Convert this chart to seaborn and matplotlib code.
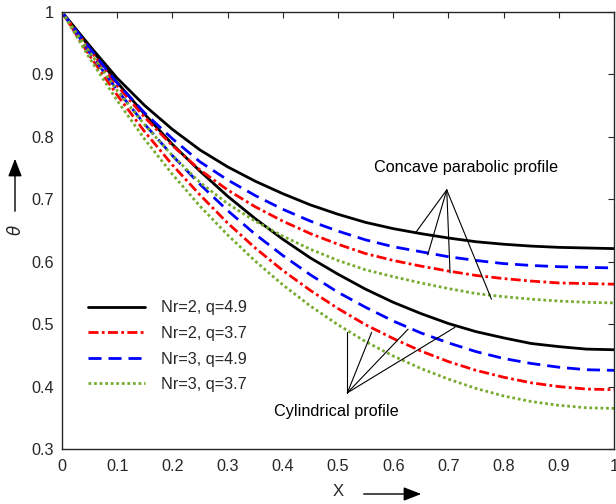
import matplotlib
matplotlib.use("Agg")
import matplotlib.pyplot as plt
import pandas as pd
import seaborn as sns

# ---------------- data ----------------
x = [0.00, 0.05, 0.10, 0.15, 0.20, 0.25, 0.30, 0.35, 0.40, 0.45, 0.50,
     0.55, 0.60, 0.65, 0.70, 0.75, 0.80, 0.85, 0.90, 0.95, 1.00]

# Cylindrical profile
cyl_nr2_q49 = [1.000, 0.944, 0.887, 0.836, 0.788, 0.745, 0.705, 0.669, 0.636, 0.606, 0.580,
               0.556, 0.535, 0.517, 0.501, 0.488, 0.478, 0.469, 0.464, 0.460, 0.459]
cyl_nr2_q37 = [1.000, 0.930, 0.867, 0.808, 0.755, 0.707, 0.662, 0.622, 0.586, 0.554, 0.525,
               0.499, 0.477, 0.457, 0.440, 0.426, 0.415, 0.406, 0.400, 0.396, 0.395]
cyl_nr3_q49 = [1.000, 0.935, 0.875, 0.820, 0.770, 0.724, 0.682, 0.644, 0.610, 0.579, 0.551,
               0.527, 0.505, 0.486, 0.470, 0.456, 0.445, 0.437, 0.431, 0.427, 0.426]
cyl_nr3_q37 = [1.000, 0.926, 0.858, 0.796, 0.740, 0.689, 0.643, 0.601, 0.563, 0.529, 0.499,
               0.472, 0.449, 0.429, 0.412, 0.397, 0.385, 0.376, 0.370, 0.366, 0.365]

# Concave parabolic profile
cp_nr2_q49 = [1.000, 0.946, 0.894, 0.850, 0.812, 0.779, 0.752, 0.729, 0.709, 0.691, 0.676,
              0.663, 0.653, 0.645, 0.638, 0.632, 0.628, 0.625, 0.623, 0.622, 0.621]
cp_nr2_q37 = [1.000, 0.940, 0.882, 0.831, 0.786, 0.747, 0.715, 0.688, 0.665, 0.645, 0.628,
              0.613, 0.602, 0.593, 0.585, 0.578, 0.573, 0.569, 0.566, 0.565, 0.564]
cp_nr3_q49 = [1.000, 0.942, 0.886, 0.838, 0.797, 0.760, 0.731, 0.706, 0.684, 0.665, 0.649,
              0.635, 0.624, 0.616, 0.608, 0.602, 0.597, 0.594, 0.592, 0.591, 0.590]
cp_nr3_q37 = [1.000, 0.936, 0.874, 0.819, 0.770, 0.727, 0.693, 0.665, 0.641, 0.620, 0.602,
              0.587, 0.576, 0.566, 0.557, 0.549, 0.544, 0.540, 0.537, 0.535, 0.534]

legend_labels = ["Nr=2, q=4.9", "Nr=2, q=3.7", "Nr=3, q=4.9", "Nr=3, q=3.7"]
x_ticks = [0, 0.1, 0.2, 0.3, 0.4, 0.5, 0.6, 0.7, 0.8, 0.9, 1]
x_tick_labels = ["0", "0.1", "0.2", "0.3", "0.4", "0.5", "0.6", "0.7", "0.8", "0.9", "1"]
y_ticks = [0.3, 0.4, 0.5, 0.6, 0.7, 0.8, 0.9, 1]
y_tick_labels = ["0.3", "0.4", "0.5", "0.6", "0.7", "0.8", "0.9", "1"]

# ---------------- long-form table ----------------
series = {
    "cyl_" + legend_labels[0]: cyl_nr2_q49,
    "cyl_" + legend_labels[1]: cyl_nr2_q37,
    "cyl_" + legend_labels[2]: cyl_nr3_q49,
    "cyl_" + legend_labels[3]: cyl_nr3_q37,
    "cp_" + legend_labels[0]: cp_nr2_q49,
    "cp_" + legend_labels[1]: cp_nr2_q37,
    "cp_" + legend_labels[2]: cp_nr3_q49,
    "cp_" + legend_labels[3]: cp_nr3_q37,
}
rows = []
for name, vals in series.items():
    for xi, yi in zip(x, vals):
        rows.append({"X": xi, "theta": yi, "series": name})
df = pd.DataFrame(rows)
order = list(series.keys())

BLACK, RED, BLUE, GREEN = "#000000", "#FF0000", "#0000FF", "#77AC30"
col_for = [BLACK, RED, BLUE, GREEN]
dash_for = ["", (3.6, 1.2, 1.0, 1.2), (4.7, 2.5), (1.0, 1.0)]
palette = {n: col_for[i % 4] for i, n in enumerate(order)}
dashes = {n: dash_for[i % 4] for i, n in enumerate(order)}

# ---------------- figure ----------------
sns.set_theme(style="white")
plt.rcParams["font.family"] = ["Liberation Sans", "DejaVu Sans"]
plt.rcParams["axes.edgecolor"] = "#262626"

fig = plt.figure(figsize=(6.16, 5.04), dpi=100)
ax = fig.add_axes([62 / 616, 1 - 449 / 504, 552 / 616, 437 / 504])

sns.lineplot(data=df, x="X", y="theta", hue="series", style="series",
             hue_order=order, style_order=order, palette=palette, dashes=dashes,
             linewidth=2.0, legend=False, ax=ax, sort=True, errorbar=None)

ax.set_xlim(0, 1)
ax.set_ylim(0.3, 1)
ax.set_xticks(x_ticks)
ax.set_xticklabels(x_tick_labels)
ax.set_yticks(y_ticks)
ax.set_yticklabels(y_tick_labels)
ax.set_xlabel("")
ax.set_ylabel("")
for s in ax.spines.values():
    s.set_visible(True)
    s.set_linewidth(1.0)
    s.set_color("#262626")
ax.tick_params(axis="both", which="both", direction="in", length=4, width=0.8,
               colors="#262626", labelsize=11.7, top=True, right=True,
               labeltop=False, labelright=False)
ax.tick_params(axis="x", pad=7)
ax.tick_params(axis="y", pad=6)

# legend (one entry per style)
handles = ax.lines[:4]
ax.legend(handles, legend_labels, loc="center left", bbox_to_anchor=(0.035, 0.235),
          frameon=False, fontsize=11.7, handlelength=3.5, handletextpad=1.0,
          labelspacing=0.65, borderaxespad=0, borderpad=0.4)

# annotations
ax.text(0.8986, 0.7516, "Concave parabolic profile", ha="right", va="center",
        fontsize=11.7, color="black")
apex_c = (0.697, 0.715)
for ex, ey in [(0.641, 0.647), (0.6625, 0.611), (0.703, 0.582), (0.778, 0.540)]:
    ax.plot([apex_c[0], ex], [apex_c[1], ey], color="black", lw=0.8)

ax.text(0.6105, 0.3606, "Cylindrical profile", ha="right", va="center",
        fontsize=11.7, color="black")
apex_y = (0.517, 0.390)
for ex, ey in [(0.517, 0.487), (0.561, 0.487), (0.627, 0.492), (0.712, 0.495)]:
    ax.plot([apex_y[0], ex], [apex_y[1], ey], color="black", lw=0.8)

# axis labels with arrows (figure coordinates)
fig.text(15 / 616, 1 - 230 / 504, r"$\theta$", rotation=90, ha="center", va="center",
         fontsize=12, color="#262626")
fig.patches.append(matplotlib.patches.FancyArrowPatch(
    (15 / 616, 1 - 214 / 504), (15 / 616, 1 - 156 / 504), transform=fig.transFigure,
    arrowstyle="-|>,head_length=0.9,head_width=0.35", mutation_scale=12,
    color="black", lw=1.0))

fig.text(338 / 616, 1 - 492 / 504, "X", ha="center", va="center",
         fontsize=12, color="#262626")
fig.patches.append(matplotlib.patches.FancyArrowPatch(
    (361 / 616, 1 - 494 / 504), (424 / 616, 1 - 494 / 504), transform=fig.transFigure,
    arrowstyle="-|>,head_length=0.9,head_width=0.35", mutation_scale=12,
    color="black", lw=1.0))

fig.savefig("out.png", dpi=100)
